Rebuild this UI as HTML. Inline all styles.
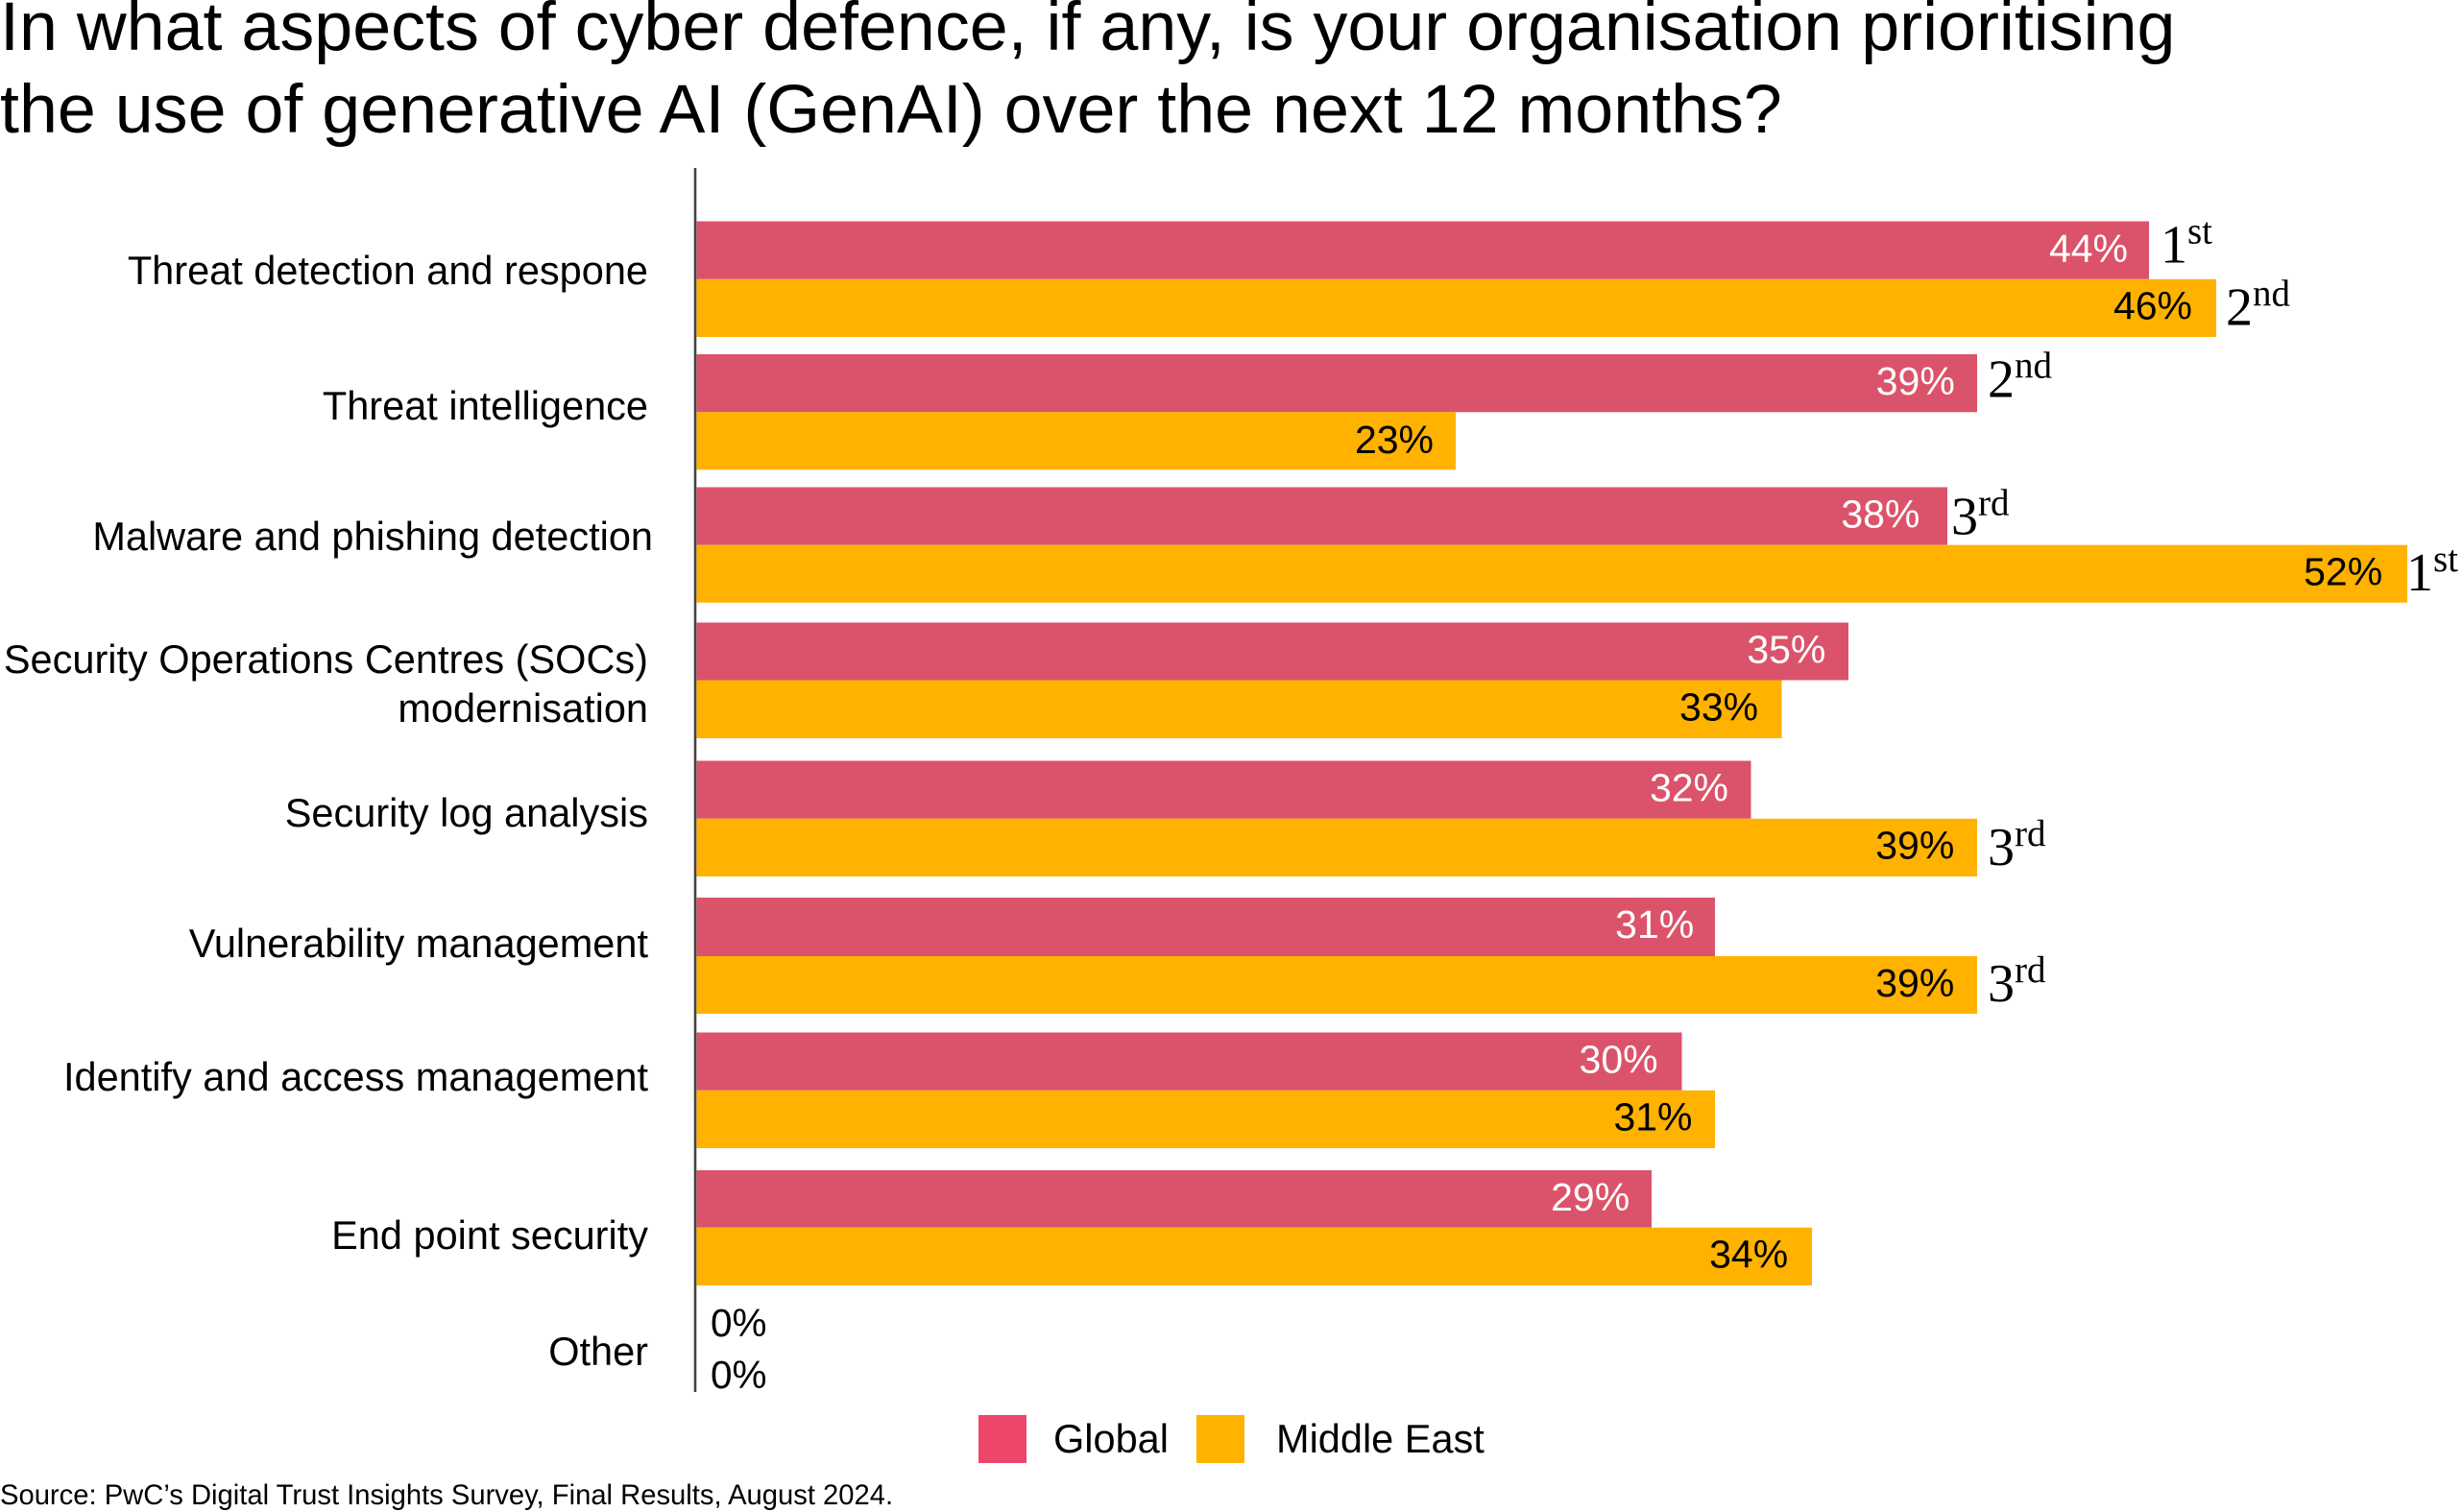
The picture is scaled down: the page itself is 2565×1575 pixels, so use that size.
<!DOCTYPE html>
<html>
<head>
<meta charset="utf-8">
<style>
  html, body { margin: 0; padding: 0; background: #ffffff; }
  body { width: 2565px; height: 1575px; overflow: hidden; }
  svg { display: block; }
  .sans { font-family: "Liberation Sans", Arial, sans-serif; }
  .serif { font-family: "Liberation Serif", "Times New Roman", serif; }
</style>
</head>
<body>
<svg width="2565" height="1575" viewBox="0 0 2565 1575" xmlns="http://www.w3.org/2000/svg">
  <rect x="0" y="0" width="2565" height="1575" fill="#ffffff"/>

  <!-- Title -->
  <g class="sans" font-size="71.8" fill="#000">
    <text x="0" y="52">In what aspects of cyber defence, if any, is your organisation prioritising</text>
    <text x="0" y="138">the use of generative AI (GenAI) over the next 12 months?</text>
  </g>

  <!-- Axis -->
  <rect x="722.7" y="175" width="2.6" height="1275" fill="#444444"/>

  <!-- Bars -->
  <g>
    <!-- G1 -->
    <rect x="725.5" y="230.5" width="1512.5" height="60.3" fill="#DB536A"/>
    <rect x="725.5" y="290.8" width="1582.5" height="60.2" fill="#FFB200"/>
    <!-- G2 -->
    <rect x="725.5" y="369" width="1333.5" height="60.3" fill="#DB536A"/>
    <rect x="725.5" y="429.3" width="790.5" height="60" fill="#FFB200"/>
    <!-- G3 -->
    <rect x="725.5" y="507.5" width="1302.5" height="60.2" fill="#DB536A"/>
    <rect x="725.5" y="567.7" width="1781.5" height="60" fill="#FFB200"/>
    <!-- G4 -->
    <rect x="725.5" y="648.5" width="1199.5" height="60" fill="#DB536A"/>
    <rect x="725.5" y="708.5" width="1130" height="60.5" fill="#FFB200"/>
    <!-- G5 -->
    <rect x="725.5" y="792.5" width="1098" height="60.3" fill="#DB536A"/>
    <rect x="725.5" y="852.8" width="1333.5" height="60.2" fill="#FFB200"/>
    <!-- G6 -->
    <rect x="725.5" y="935" width="1060.5" height="61" fill="#DB536A"/>
    <rect x="725.5" y="996" width="1333.5" height="60" fill="#FFB200"/>
    <!-- G7 -->
    <rect x="725.5" y="1075.5" width="1026" height="60.3" fill="#DB536A"/>
    <rect x="725.5" y="1135.8" width="1060.5" height="60.2" fill="#FFB200"/>
    <!-- G8 -->
    <rect x="725.5" y="1219" width="994.5" height="59.7" fill="#DB536A"/>
    <rect x="725.5" y="1278.7" width="1161.5" height="60.3" fill="#FFB200"/>
  </g>

  <!-- Category labels -->
  <g class="sans" font-size="41.5" fill="#000" text-anchor="end">
    <text x="675" y="296">Threat detection and respone</text>
    <text x="675" y="437">Threat intelligence</text>
    <text x="680" y="573">Malware and phishing detection</text>
    <text x="675" y="701">Security Operations Centres (SOCs)</text>
    <text x="675" y="752">modernisation</text>
    <text x="675" y="861">Security log analysis</text>
    <text x="675" y="997">Vulnerability management</text>
    <text x="675" y="1136">Identify and access management</text>
    <text x="675" y="1301">End point security</text>
    <text x="675" y="1422">Other</text>
  </g>

  <!-- Value labels: Global (white) -->
  <g class="sans" font-size="41" fill="#ffffff" text-anchor="end">
    <text x="2216" y="273">44%</text>
    <text x="2035.8" y="411">39%</text>
    <text x="1999.4" y="549.5">38%</text>
    <text x="1901.4" y="690.5">35%</text>
    <text x="1800" y="834.5">32%</text>
    <text x="1764.2" y="977">31%</text>
    <text x="1726.6" y="1117.5">30%</text>
    <text x="1697.2" y="1261">29%</text>
  </g>

  <!-- Value labels: Middle East (black) -->
  <g class="sans" font-size="41" fill="#000000" text-anchor="end">
    <text x="2283" y="332.5">46%</text>
    <text x="1493" y="472">23%</text>
    <text x="2481.2" y="609.5">52%</text>
    <text x="1831.1" y="750.5">33%</text>
    <text x="2035.3" y="894.5">39%</text>
    <text x="2035.3" y="1038">39%</text>
    <text x="1762.5" y="1177.5">31%</text>
    <text x="1862.2" y="1320.5">34%</text>
  </g>

  <!-- Other 0% labels -->
  <g class="sans" font-size="40.5" fill="#000">
    <text x="740" y="1392">0%</text>
    <text x="740" y="1446">0%</text>
  </g>

  <!-- Rank labels -->
  <g class="serif" fill="#000" font-size="56">
    <text x="2250" y="273.5">1<tspan font-size="39" dy="-20">st</tspan></text>
    <text x="2318" y="338.3">2<tspan font-size="39" dy="-20">nd</tspan></text>
    <text x="2070" y="413.3">2<tspan font-size="39" dy="-20">nd</tspan></text>
    <text x="2032" y="556.7">3<tspan font-size="39" dy="-20">rd</tspan></text>
    <text x="2506" y="615">1<tspan font-size="39" dy="-20">st</tspan></text>
    <text x="2070" y="901">3<tspan font-size="39" dy="-20">rd</tspan></text>
    <text x="2070" y="1043">3<tspan font-size="39" dy="-20">rd</tspan></text>
  </g>

  <!-- Legend -->
  <rect x="1019" y="1474" width="50" height="50" fill="#EE456A"/>
  <text class="sans" x="1097" y="1513" font-size="41.5" fill="#000">Global</text>
  <rect x="1246" y="1474" width="50" height="50" fill="#FFB200"/>
  <text class="sans" x="1329" y="1513" font-size="41.5" fill="#000">Middle East</text>

  <!-- Source -->
  <text class="sans" x="0" y="1567" font-size="29.2" fill="#000">Source: PwC’s Digital Trust Insights Survey, Final Results, August 2024.</text>
</svg>
</body>
</html>
